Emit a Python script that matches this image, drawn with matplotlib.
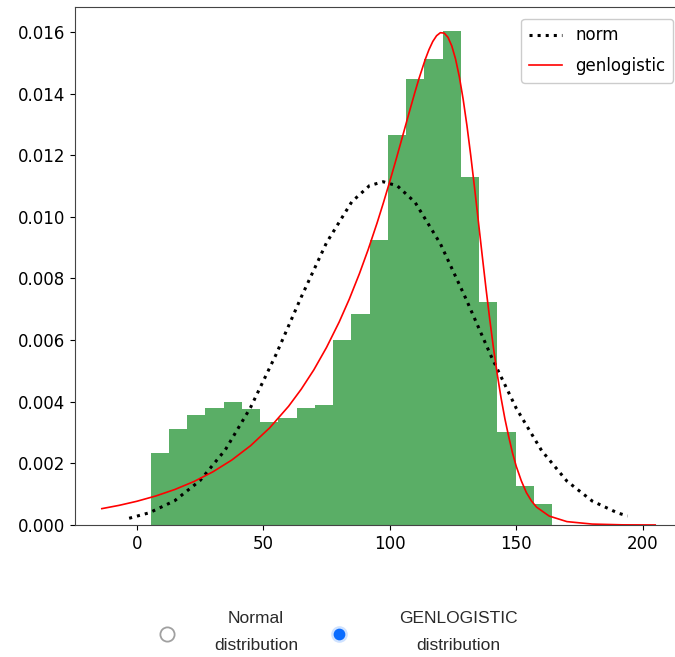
import matplotlib
matplotlib.use("Agg")
import matplotlib.pyplot as plt
import numpy as np

# ---- data ----
bin_edges = [5.45, 12.67, 19.88, 27.10, 34.31, 41.53, 48.74, 55.96, 63.17,
             70.39, 77.60, 84.82, 92.03, 99.25, 106.46, 113.68, 120.89,
             128.11, 135.32, 142.54, 149.75, 156.97, 164.18]
bin_heights = [0.00235, 0.00311, 0.00357, 0.00379, 0.00400, 0.00375, 0.00333,
               0.00348, 0.00379, 0.00389, 0.00600, 0.00684, 0.00925, 0.01266,
               0.01447, 0.01511, 0.01603, 0.01128, 0.00725, 0.00303, 0.00127,
               0.00067]

norm_x = [-3, 5, 15, 25, 35, 45, 55, 65, 75, 85, 92, 97.4, 103, 110, 120,
          130, 140, 150, 160, 170, 180, 190, 194]
norm_y = [0.000218, 0.000398, 0.000788, 0.001441, 0.002439, 0.003817,
          0.005524, 0.007396, 0.009160, 0.010491, 0.011014, 0.011140,
          0.011005, 0.010471, 0.009127, 0.007359, 0.005488, 0.003785,
          0.002415, 0.001425, 0.000778, 0.000393, 0.000292]

genlog_x = [-13.8, -7, 0, 7.5, 15, 22.5, 30, 37.5, 45, 52.5, 60, 65, 70, 75,
            80, 84, 88, 91.5, 95, 97.5, 100, 102.5, 105, 107.5, 110, 111.5,
            114, 115.5, 117, 118.5, 120, 121.5, 123, 124.5, 126, 127.5, 129,
            130.5, 132, 133.5, 135, 136.5, 138, 139.5, 141, 142.5, 144, 145.5,
            147, 148.5, 150, 152, 154, 156, 158, 163, 170, 180, 192, 204.9]
genlog_y = [0.000531, 0.000637, 0.000769, 0.000941, 0.001151, 0.001407,
            0.001721, 0.002105, 0.002575, 0.003150, 0.003852,
            0.004406, 0.005037, 0.005762, 0.006587, 0.007331, 0.008156,
            0.008947, 0.009806, 0.010462, 0.011149, 0.011863, 0.012598,
            0.013338, 0.014062, 0.014477, 0.015105, 0.015428, 0.015692,
            0.015879, 0.015976, 0.015963, 0.015826, 0.015548, 0.015119,
            0.014542, 0.013814, 0.012958, 0.011991, 0.010947, 0.009861,
            0.008766, 0.007695, 0.006678, 0.005735, 0.004877, 0.004114,
            0.003445, 0.002867, 0.002340, 0.001900, 0.001430, 0.001050,
            0.000780, 0.000580, 0.000290, 0.000110, 0.000030, 0.000005,
            0.000001]

y_ticks = [0.000, 0.002, 0.004, 0.006, 0.008, 0.010, 0.012, 0.014, 0.016]
x_ticks = [0, 50, 100, 150, 200]
legend_labels = ["norm", "genlogistic"]
radio_labels = ["Normal\ndistribution", "GENLOGISTIC\ndistribution"]

W, H = 675, 657
fig = plt.figure(figsize=(W / 100, H / 100), dpi=100)
plt.rcParams['font.size'] = 12

ax = fig.add_axes([75 / W, 1 - 525 / H, (700 - 75) / W, (525 - 7) / H])
widths = np.diff(bin_edges)
ax.bar(bin_edges[:-1], bin_heights, width=widths, align='edge',
       color='#5aae66', linewidth=0)
ax.plot(norm_x, norm_y, color='black', linestyle=':', linewidth=2.2,
        label=legend_labels[0])
ax.plot(genlog_x, genlog_y, color='red', linewidth=1.2, label=legend_labels[1])

ax.set_xlim(-24.4, 222.6)
ax.set_ylim(0, 0.01681)
ax.set_xticks(x_ticks)
ax.set_yticks(y_ticks)
ax.set_yticklabels([f"{v:.3f}" for v in y_ticks])
ax.tick_params(labelsize=12)
for s in ax.spines.values():
    s.set_color('#444444')
ax.spines['right'].set_visible(False)

leg = ax.legend(loc='upper right', bbox_to_anchor=(673 / W, 1 - 19 / H),
                bbox_transform=fig.transFigure, borderaxespad=0,
                fontsize=12, framealpha=1, handlelength=2.0,
                labelspacing=0.75, borderpad=0.45)

# ---- radio buttons (overlay) ----
ov = fig.add_axes([0, 0, 1, 1], facecolor='none')
ov.set_xlim(0, W)
ov.set_ylim(H, 0)
ov.axis('off')
ov.scatter([167], [634], s=105, facecolor='white', edgecolor='#a0a0a0',
           linewidth=1.3, zorder=3)
ov.scatter([339], [634], s=120, facecolor='#cfe2ff', edgecolor='#cfe2ff',
           linewidth=1.0, zorder=3)
ov.scatter([339], [634], s=55, facecolor='#0a6cff', edgecolor='#0a6cff',
           zorder=4)
ov.text(256, 632, radio_labels[0], ha='center', va='center',
        fontsize=12.5, family='Liberation Sans', color='#2a2a2a',
        linespacing=1.95)
ov.text(458, 632, radio_labels[1], ha='center', va='center',
        fontsize=12.5, family='Liberation Sans', color='#2a2a2a',
        linespacing=1.95)

fig.savefig('out.png', dpi=100)
